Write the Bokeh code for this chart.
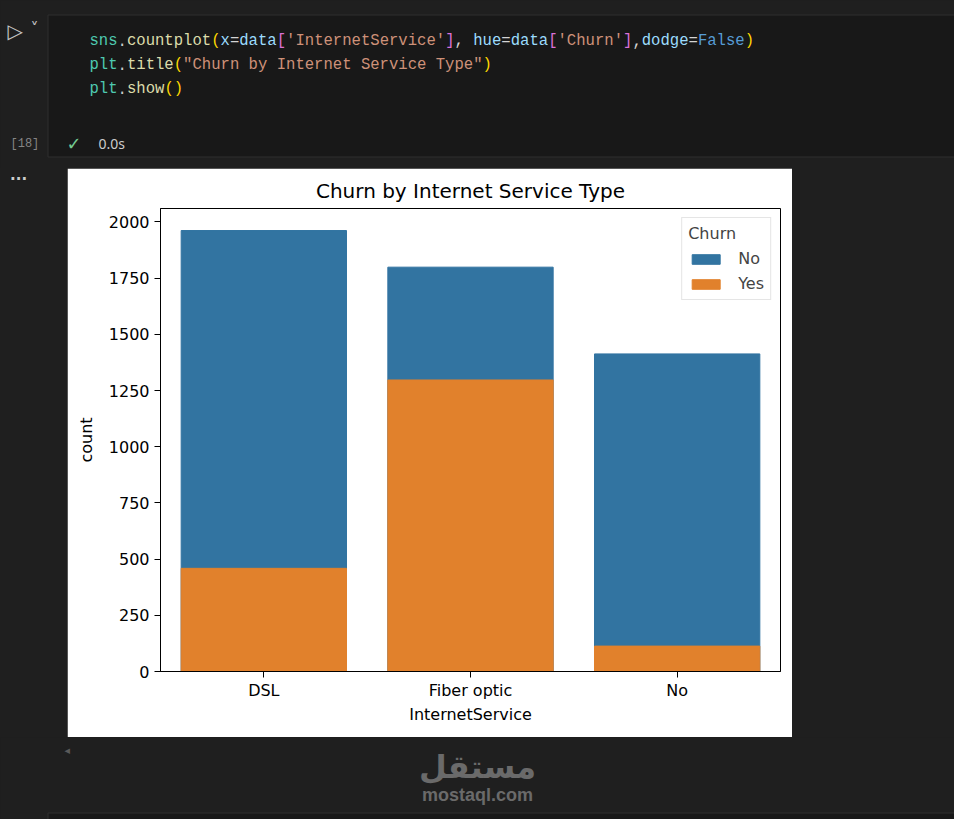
from bokeh.plotting import figure
from bokeh.models import (Range1d, FactorRange, FixedTicker, ColumnDataSource,
                          Spacer, Div, GlobalInlineStyleSheet)
from bokeh.layouts import column, row
from bokeh.core.properties import value
from bokeh.embed import file_html
from bokeh.resources import INLINE

# ---------------- chart data ----------------
categories = ["DSL", "Fiber optic", "No"]
churn_no = [1962, 1799, 1413]
churn_yes = [459, 1297, 113]
y_ticks = [0, 250, 500, 750, 1000, 1250, 1500, 1750, 2000]
title_text = "Churn by Internet Service Type"
x_label = "InternetService"
y_label = "count"
legend_title = "Churn"

# ---------------- notebook chrome text ----------------
code_line1 = [("sns", "#4ec9b0"), (".", "#cccccc"), ("countplot", "#dcdcaa"), ("(", "#ffd700"),
              ("x", "#9cdcfe"), ("=", "#d4d4d4"), ("data", "#9cdcfe"), ("[", "#da70d6"),
              ("'InternetService'", "#ce9178"), ("]", "#da70d6"), (", ", "#d4d4d4"),
              ("hue", "#9cdcfe"), ("=", "#d4d4d4"), ("data", "#9cdcfe"), ("[", "#da70d6"),
              ("'Churn'", "#ce9178"), ("]", "#da70d6"), (",", "#d4d4d4"), ("dodge", "#9cdcfe"),
              ("=", "#d4d4d4"), ("False", "#569cd6"), (")", "#ffd700")]
code_line2 = [("plt", "#4ec9b0"), (".", "#cccccc"), ("title", "#dcdcaa"), ("(", "#ffd700"),
              ("\"Churn by Internet Service Type\"", "#ce9178"), (")", "#ffd700")]
code_line3 = [("plt", "#4ec9b0"), (".", "#cccccc"), ("show", "#dcdcaa"), ("()", "#ffd700")]

BG = "#1f1f1f"
CELL = "#181818"
CELL_LINE = "#2e2e2e"
FONT = "DejaVu Sans"

# ---------------- header (code cell) ----------------
hdr = figure(width=954, height=168, x_range=Range1d(0, 954), y_range=Range1d(168, 0),
             x_axis_type=None, y_axis_type=None, toolbar_location=None, output_backend="svg")
hdr.min_border = 0
hdr.outline_line_color = None
hdr.background_fill_color = BG
hdr.border_fill_color = BG
hdr.quad(left=[47.5], right=[1000], top=[14.5], bottom=[156.5],
         fill_color=CELL, line_color=CELL_LINE, line_width=1)

cw = 9.36
xs, ys, ts, cs = [], [], [], []
for li, line in enumerate([code_line1, code_line2, code_line3]):
    off = 0
    for tok, col in line:
        xs.append(89 + off * cw)
        ys.append(40 + 24 * li)
        ts.append(tok)
        cs.append(col)
        off += len(tok)
hdr.text(x="x", y="y", text="t", text_color="c",
         source=ColumnDataSource(dict(x=xs, y=ys, t=ts, c=cs)),
         text_font=value("Liberation Mono"), text_font_size=value("15.6px"),
         text_baseline="middle", text_align="left")

hdr.text(x=[7], y=[30], text=["▷"], text_color="#c5c5c5", text_font=value("DejaVu Sans"),
         text_font_size=value("20px"), text_baseline="middle")
hdr.text(x=[30], y=[28], text=["˅"], text_color="#c5c5c5", text_font=value("DejaVu Sans"),
         text_font_size=value("16px"), text_baseline="middle")
hdr.text(x=[10], y=[143], text=["[18]"], text_color="#858585", text_font=value("Liberation Mono"),
         text_font_size=value("12px"), text_baseline="middle")
hdr.text(x=[66], y=[143], text=["✓"], text_color="#73c991", text_font=value("DejaVu Sans"),
         text_font_size=value("18px"), text_baseline="middle")
hdr.text(x=[98], y=[143], text=["0.0s"], text_color="#cccccc", text_font=value("Noto Sans"),
         text_font_size=value("14px"), text_baseline="middle")

# ---------------- left gutter ----------------
gut = Div(text="...", width=67, height=569, margin=0,
          styles={"color": "#cccccc", "font-family": "DejaVu Sans", "font-size": "15px",
                  "font-weight": "bold", "text-indent": "10px", "line-height": "15px",
                  "background-color": BG})

# ---------------- chart ----------------
p = figure(width=725, height=569,
           x_range=FactorRange(factors=categories, range_padding=0, factor_padding=0),
           y_range=Range1d(0, 2060), title=title_text,
           toolbar_location=None, output_backend="svg",
           min_border_left=93, min_border_right=12, min_border_top=40, min_border_bottom=66)
p.background_fill_color = "white"
p.border_fill_color = "white"
p.outline_line_color = "black"
p.outline_line_width = 1
p.xgrid.visible = False
p.ygrid.visible = False

src = ColumnDataSource(dict(cat=categories, no=churn_no, yes=churn_yes))
p.vbar(x="cat", top="no", width=0.8, source=src, fill_color="#3274a1",
       line_color="#3274a1", legend_label="No")
p.vbar(x="cat", top="yes", width=0.8, source=src, fill_color="#e1812c",
       line_color="#e1812c", legend_label="Yes")

p.title.align = "center"
p.title.text_font = FONT
p.title.text_font_size = "20px"
p.title.text_font_style = "normal"
p.title.text_color = "black"
p.title.standoff = 12

for ax in (p.xaxis[0], p.yaxis[0]):
    ax.axis_line_color = "black"
    ax.major_tick_line_color = "black"
    ax.major_tick_out = 6
    ax.major_tick_in = 0
    ax.minor_tick_out = 0
    ax.minor_tick_in = 0
    ax.major_label_text_font = FONT
    ax.major_label_text_font_size = "16px"
    ax.major_label_text_color = "black"
    ax.axis_label_text_font = FONT
    ax.axis_label_text_font_size = "16px"
    ax.axis_label_text_font_style = "normal"
    ax.axis_label_text_color = "black"

p.yaxis[0].ticker = FixedTicker(ticks=y_ticks)
p.yaxis[0].axis_label = y_label
p.yaxis[0].major_label_standoff = 5
p.yaxis[0].axis_label_standoff = 10
p.xaxis[0].axis_label = x_label
p.xaxis[0].major_label_standoff = 3
p.xaxis[0].axis_label_standoff = 2

lg = p.legend[0]
lg.location = "top_right"
lg.title = legend_title
lg.title_text_font = FONT
lg.title_text_font_size = "16px"
lg.title_text_font_style = "normal"
lg.title_standoff = 6
lg.label_text_font = FONT
lg.label_text_font_size = "16px"
lg.glyph_width = 35
lg.glyph_height = 12
lg.label_standoff = 15
lg.margin = 9
lg.padding = 6
lg.spacing = 6
lg.border_line_color = "#cccccc"
lg.background_fill_alpha = 0.8

# ---------------- bottom (watermark) ----------------
bot = figure(width=954, height=82, x_range=Range1d(0, 954), y_range=Range1d(819, 737),
             x_axis_type=None, y_axis_type=None, toolbar_location=None, output_backend="svg")
bot.min_border = 0
bot.outline_line_color = None
bot.background_fill_color = BG
bot.border_fill_color = BG
bot.quad(left=[47.5], right=[1000], top=[812.5], bottom=[830],
         fill_color=CELL, line_color=CELL_LINE, line_width=1)
bot.text(x=[64], y=[750], text=["◂"], text_color="#5a5a5a", text_font=value("DejaVu Sans"),
         text_font_size=value("11px"), text_baseline="middle")
bot.text(x=[477], y=[766], text=["مستقل"], text_color="#6a6a6a", text_font=value("DejaVu Sans"),
         text_font_size=value("32px"), text_font_style="bold", text_align="center",
         text_baseline="middle")
bot.text(x=[477], y=[794], text=["mostaql.com"], text_color="#6a6a6a",
         text_font=value("Liberation Sans"), text_font_size=value("18px"),
         text_font_style="bold", text_align="center", text_baseline="middle")

layout = column(hdr, row(gut, p, Spacer(width=162, height=569)), bot, spacing=0)
layout.stylesheets = [GlobalInlineStyleSheet(css="body{background:#1f1f1f;}")]

open("out.html", "w").write(file_html(layout, INLINE))
